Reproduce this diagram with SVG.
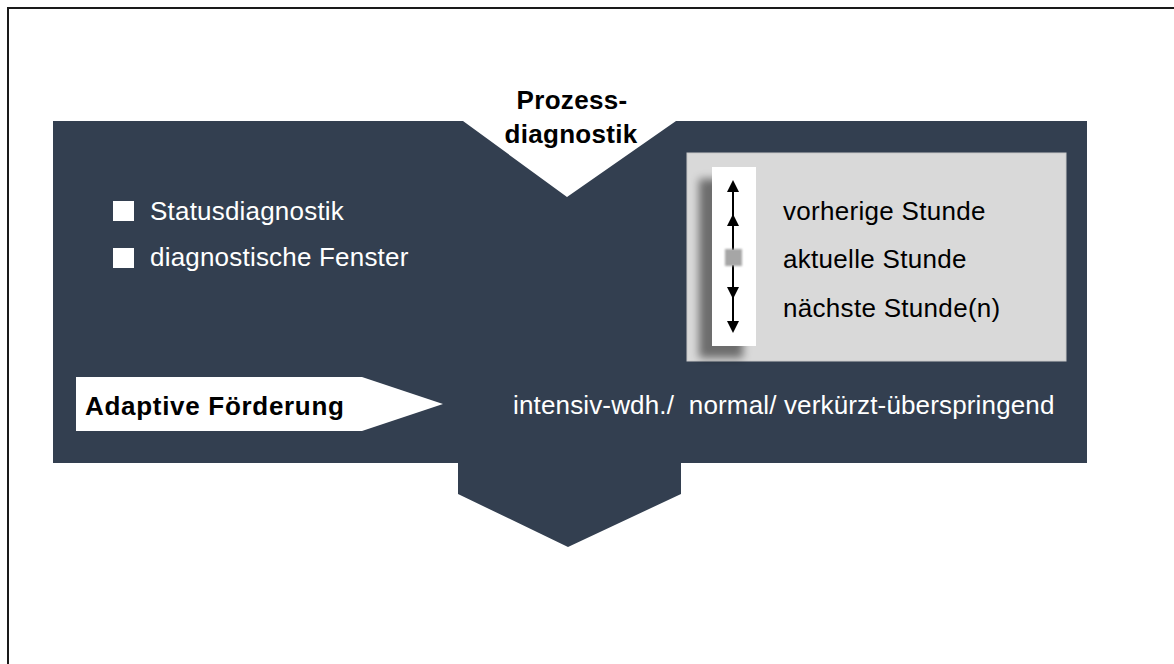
<svg xmlns="http://www.w3.org/2000/svg" width="1174" height="664" viewBox="0 0 1174 664">
<style>
.t{font-family:"Liberation Sans",Arial,sans-serif;font-size:26px;letter-spacing:0.2px}
.w{fill:#ffffff}
.k{fill:#000000}
.b{font-weight:bold}
.dark{fill:#333F50}
</style>
<defs>
<filter id="sh" x="-60%" y="-20%" width="200%" height="140%">
<feGaussianBlur in="SourceAlpha" stdDeviation="4"/>
<feOffset dx="-13" dy="12" result="o"/>
<feComponentTransfer><feFuncA type="linear" slope="0.5"/></feComponentTransfer>
<feMerge><feMergeNode/><feMergeNode in="SourceGraphic"/></feMerge>
</filter>
<filter id="sq" x="-30%" y="-30%" width="160%" height="160%">
<feGaussianBlur stdDeviation="0.8"/>
</filter>
</defs>
<rect width="1174" height="664" fill="#ffffff"/>
<g id="frame">
<path d="M8 664 V8 H1174" fill="none" stroke="#1a1a1a" stroke-width="2"/>
</g>
<g id="main">
<path class="dark" d="M53 121 H463 L567 197 L676 121 H1087 V463 H681 V494 L568 547 L458 494 V463 H53 Z"/>
</g>
<g id="prozess">
<text class="t b k" x="572" y="109" text-anchor="middle" style="letter-spacing:0.3px">Prozess-</text>
<text class="t b k" x="571" y="143" text-anchor="middle" style="letter-spacing:0.3px">diagnostik</text>
</g>
<g id="bullets">
<rect class="w" x="113" y="201" width="21" height="20"/>
<text class="t w" x="150" y="220">Statusdiagnostik</text>
<rect class="w" x="113" y="248" width="21" height="20"/>
<text class="t w" x="150" y="266">diagnostische Fenster</text>
</g>
<g id="stunden">
<rect x="687" y="153" width="379" height="208" fill="#D9D9D9" stroke="#C8C8C8" stroke-width="1"/>
<rect x="712" y="167" width="44" height="179" fill="#ffffff" filter="url(#sh)"/>
<g stroke="#000" stroke-width="2" fill="none">
<line x1="733" y1="186" x2="733" y2="250"/>
<line x1="733" y1="265" x2="733" y2="328"/>
</g>
<g fill="#000">
<path d="M733 180 L739 192 H727 Z"/>
<path d="M733 214 L739 226 H727 Z"/>
<path d="M733 299 L739 287 H727 Z"/>
<path d="M733 333 L739 321 H727 Z"/>
</g>
<rect x="725" y="249" width="17" height="17" fill="#A6A6A6" filter="url(#sq)"/>
<text class="t k" x="783" y="220" style="letter-spacing:0.3px">vorherige Stunde</text>
<text class="t k" x="783" y="268" style="letter-spacing:0.3px">aktuelle Stunde</text>
<text class="t k" x="783" y="317" style="letter-spacing:0.3px">nächste Stunde(n)</text>
</g>
<g id="adaptive">
<path class="w" d="M76 377 H362 L443 404 L362 431 H76 Z"/>
<text class="t b k" x="85" y="415" style="letter-spacing:0.7px">Adaptive Förderung</text>
</g>
<g id="stufen">
<text class="t w" x="513" y="414" style="letter-spacing:0.15px">intensiv-wdh./&#160; normal/ verkürzt-überspringend</text>
</g>
</svg>
